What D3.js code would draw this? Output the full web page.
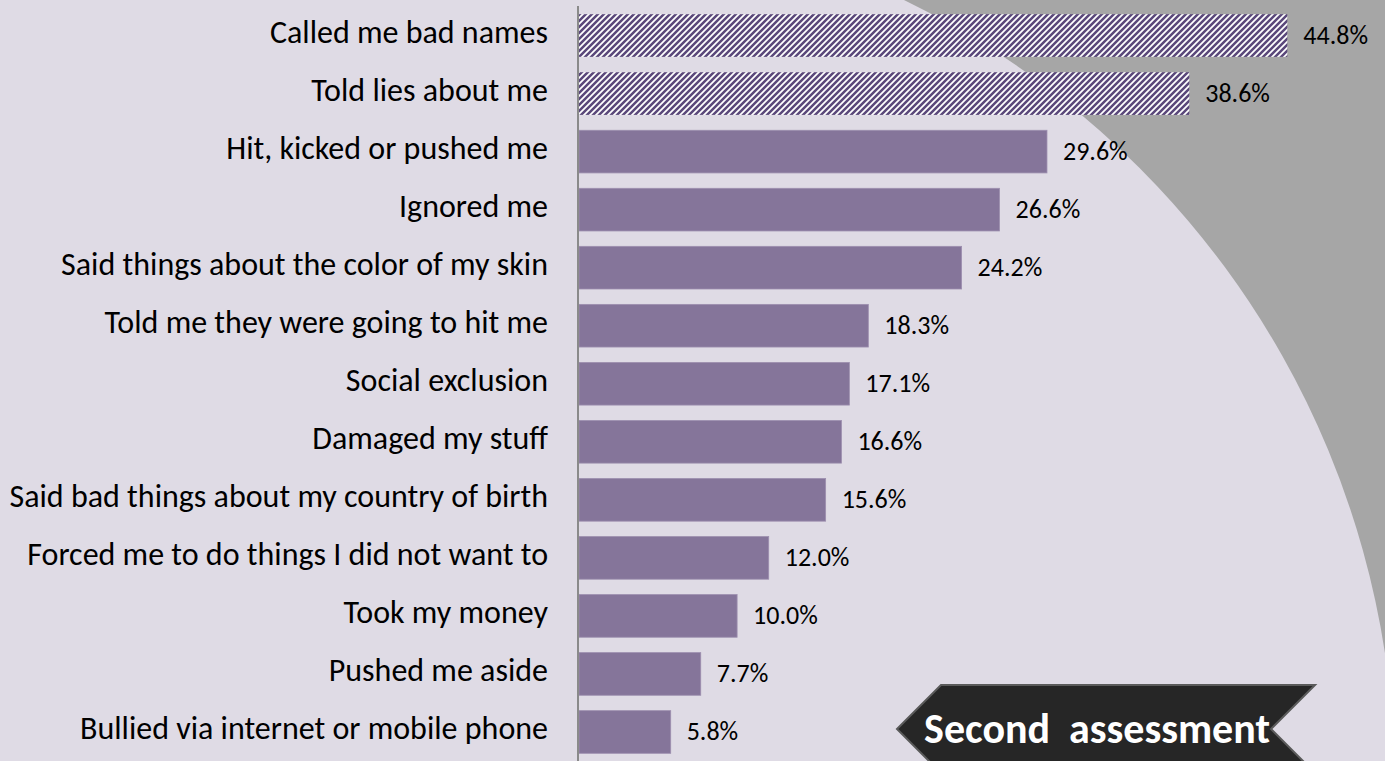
<!DOCTYPE html>
<html><head><meta charset="utf-8">
<script src="https://cdn.jsdelivr.net/npm/d3@7"></script>
<style>
  body { margin: 0; background: #DFDBE5; }
  svg { display: block; }
</style></head>
<body><svg id="chart" width="1385" height="761"></svg>
<script>
// Forms of bullying reported, share of pupils (%)
const categories = [
  "Called me bad names",
  "Told lies about me",
  "Hit, kicked or pushed me",
  "Ignored me",
  "Said things about the color of my skin",
  "Told me they were going to hit me",
  "Social exclusion",
  "Damaged my stuff",
  "Said bad things about my country of birth",
  "Forced me to do things I did not want to",
  "Took my money",
  "Pushed me aside",
  "Bullied via internet or mobile phone"
];
const values = [44.8, 38.6, 29.6, 26.6, 24.2, 18.3, 17.1, 16.6, 15.6, 12.0, 10.0, 7.7, 5.8];
// The two most frequent forms are drawn hatched
const highlighted = ["Called me bad names", "Told lies about me"];
const badgeText = "Second  assessment";

const W = 1385, H = 761;
const svg = d3.select("#chart");
const FONT = "Carlito, Calibri, Lato, sans-serif";

// Slide background: lavender field, grey outside a large arc in the top-right corner
svg.append("rect").attr("width", W).attr("height", H).attr("fill", "#DFDBE5");
const disc = { cx: 522, cy: 785, r: 873 };
const topX = disc.cx + Math.sqrt(disc.r * disc.r - disc.cy * disc.cy);          // arc meets top edge
const rightY = disc.cy - Math.sqrt(disc.r * disc.r - (W - disc.cx) ** 2);       // arc meets right edge
svg.append("path")
  .attr("fill", "#A6A6A6")
  .attr("d", `M${topX},0H${W}V${rightY}A${disc.r},${disc.r} 0 0,0 ${topX},0Z`);

// Diagonal hatch for highlighted bars
const defs = svg.append("defs");
const pat = defs.append("pattern")
  .attr("id", "hatch")
  .attr("patternUnits", "userSpaceOnUse")
  .attr("width", 6).attr("height", 6);
pat.append("rect").attr("width", 6).attr("height", 6).attr("fill", "#FFFFFF");
pat.append("path")
  .attr("d", "M-1.5,1.5L1.5,-1.5M0,6L6,0M4.5,7.5L7.5,4.5")
  .attr("stroke", "#5A477A")
  .attr("stroke-width", 2.5);

const x = d3.scaleLinear().domain([0, 50]).range([579, 1369.5]);
const y = d3.scaleBand().domain(categories).range([6.5, H]).paddingInner(0.265).paddingOuter(0.1325);

const data = categories.map((c, i) => ({ cat: c, val: values[i] }));

// Bars
svg.append("g").selectAll("rect")
  .data(data)
  .join("rect")
  .attr("x", x(0))
  .attr("y", d => y(d.cat))
  .attr("width", d => x(d.val) - x(0))
  .attr("height", y.bandwidth())
  .attr("fill", d => highlighted.includes(d.cat) ? "url(#hatch)" : "#85759A")
  .attr("stroke", d => highlighted.includes(d.cat) ? "none" : "#9D8FAF")
  .attr("stroke-width", 0.8);

// Value labels
svg.append("g").selectAll("text")
  .data(data)
  .join("text")
  .attr("x", d => x(d.val) + 16)
  .attr("y", d => y(d.cat) + y.bandwidth() / 2 + 8.5)
  .attr("font-family", FONT)
  .attr("font-size", 26)
  .attr("fill", "#000")
  .text(d => d.val.toFixed(1) + "%");

// Category axis on the left
const yAxis = d3.axisLeft(y).tickSize(0).tickPadding(30);
const ag = svg.append("g").attr("transform", `translate(${x(0) - 1},0)`).call(yAxis);
ag.select(".domain").remove();
ag.append("line")
  .attr("x1", 0).attr("x2", 0)
  .attr("y1", 6).attr("y2", H)
  .attr("stroke", "#8A8A8A")
  .attr("stroke-width", 2);
ag.selectAll(".tick text")
  .attr("font-family", FONT)
  .attr("font-size", 32)
  .attr("fill", "#000")
  .attr("dy", null)
  .attr("y", 7.5);

// Badge in the bottom-right corner
const bx0 = 897, bx1 = 941, bx2 = 1315, notch = 44, by = 729, bh = 44;
const badge = svg.append("g");
badge.append("path")
  .attr("d", `M${bx0},${by}L${bx1},${by - bh}H${bx2}L${bx2 - notch},${by}L${bx2},${by + bh}H${bx1}Z`)
  .attr("fill", "#262626")
  .attr("stroke", "#5A5A5A")
  .attr("stroke-width", 2);
badge.append("text")
  .attr("x", 1097)
  .attr("y", 743)
  .attr("text-anchor", "middle")
  .attr("font-family", FONT)
  .attr("font-weight", "bold")
  .attr("font-size", 42)
  .attr("fill", "#FFFFFF")
  .style("white-space", "pre")
  .text(badgeText);
</script></body></html>
